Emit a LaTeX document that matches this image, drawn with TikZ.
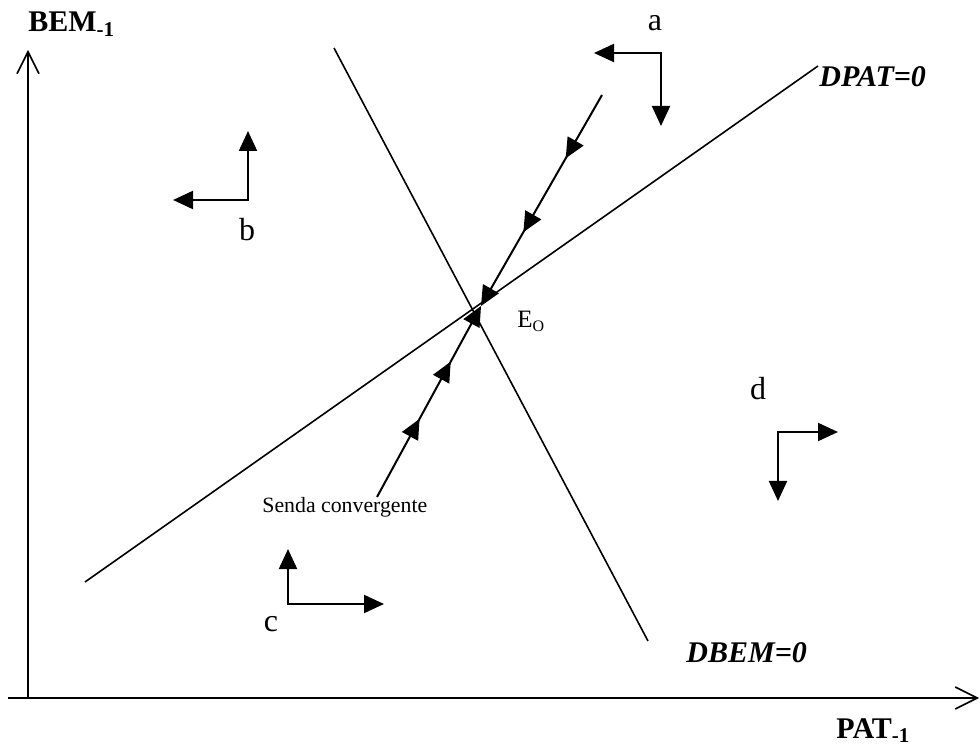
\documentclass[tikz,border=0pt]{standalone}
\usepackage{fontspec}
\setmainfont{Liberation Serif}
\usetikzlibrary{arrows.meta,positioning,decorations.markings}

\begin{document}
\begin{tikzpicture}[
  x=0.5pt, y=-0.5pt,
  axis/.style={line width=1pt, -{Straight Barb[length=11pt, width=11pt, line width=0.8pt]}},
  curve/.style={line width=0.8pt},
  flow/.style={line width=1pt, {Triangle[length=10pt, width=9pt]}-{Triangle[length=10pt, width=9pt]}},
  senda/.style n args={2}{line width=1pt, -{Triangle[length=10pt, width=9pt]},
    postaction={decorate}, decoration={markings,
      mark=at position #1 with {\arrow{Triangle[length=10pt, width=9pt]}},
      mark=at position #2 with {\arrow{Triangle[length=10pt, width=9pt]}}}},
  axislabel/.style={font=\fontsize{15}{18}\selectfont\bfseries, inner sep=0pt},
  curvelabel/.style={font=\fontsize{15}{18}\selectfont\bfseries\itshape, inner sep=0pt},
  region/.style={font=\fontsize{16}{19}\selectfont, inner sep=0pt},
  note/.style={font=\fontsize{10.9}{13}\selectfont, inner sep=0pt}
]
  \useasboundingbox (0,0) rectangle (980,748);

  % axes
  \coordinate (origin) at (28,698);
  \coordinate (ytop) at (28,50);
  \coordinate (xleft) at (8,698);
  \coordinate (xright) at (979,698);
  \draw[axis] (origin) -- (ytop);
  \draw[axis] (xleft) -- (xright);
  \node[axislabel, anchor=base west] (bem) at (28,32) {BEM\textsubscript{-1}};
  \node[axislabel, anchor=base west] (pat) at (836,738) {PAT\textsubscript{-1}};

  % schedules
  \coordinate (dpatA) at (85,582);
  \coordinate (dpatB) at (818,66);
  \coordinate (dbemA) at (334,48);
  \coordinate (dbemB) at (648,641);
  \draw[curve] (dpatA) -- (dpatB);
  \draw[curve] (dbemA) -- (dbemB);
  \node[curvelabel, anchor=base west] (dpat) at (819,87) {DPAT=0};
  \node[curvelabel, anchor=base west] (dbem) at (686,662) {DBEM=0};

  % equilibrium and convergent path
  \coordinate (eo) at (481,306);
  \node[inner sep=0pt, anchor=base west, font=\fontsize{12.5}{15}\selectfont] (eolabel) at (517,328)
    {E\raisebox{-2pt}{\fontsize{8}{9}\selectfont O}};
  \coordinate (upstart) at (602,95);
  \coordinate (lowstart) at (377,497);
  \draw[senda={0.3}{0.65}] (upstart) -- (eo);
  \draw[senda={0.41}{0.71}] (lowstart) -- (eo);
  \node[note, anchor=base west] (senda) at (262,513) {Senda convergente};

  % movements by region
  \coordinate (acorner) at (661,53);
  \draw[flow] (594,53) -- (acorner) -- (661,126);
  \node[region, anchor=base] (a) at (655,31) {a};

  \coordinate (bcorner) at (248,200);
  \draw[flow] (173,200) -- (bcorner) -- (248,131);
  \node[region, anchor=base] (b) at (247,241) {b};

  \coordinate (ccorner) at (288,604);
  \draw[flow] (288,549) -- (ccorner) -- (384,604);
  \node[region, anchor=base] (c) at (271,631) {c};

  \coordinate (dcorner) at (778,432);
  \draw[flow] (838,432) -- (dcorner) -- (778,501);
  \node[region, anchor=base] (d) at (758,400) {d};
\end{tikzpicture}
\end{document}
